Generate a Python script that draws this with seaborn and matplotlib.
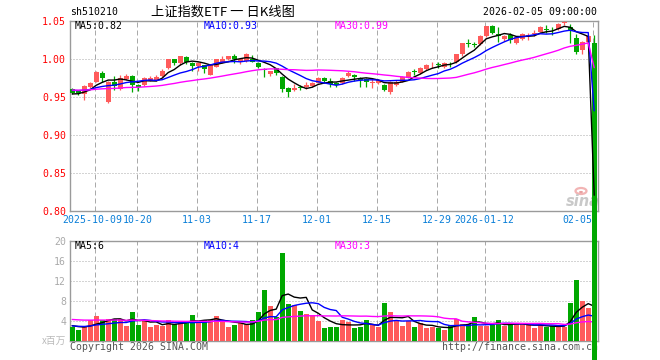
import numpy as np
import pandas as pd
import matplotlib
matplotlib.use('Agg')
import matplotlib.pyplot as plt
import matplotlib.transforms as mtransforms
import seaborn as sns
from matplotlib.patches import Circle

# ---------------- data ----------------
tick_labels = ['2025-10-09', '10-20', '11-03', '11-17', '12-01', '12-15',
               '12-29', '2026-01-12', '02-05']
tick_index = [4, 11, 21, 31, 41, 51, 61, 69, 87]

opens = [0.9605, 0.9590, 0.9550, 0.9630, 0.9706, 0.9816, 0.9440, 0.9706, 0.9605, 0.9737,
         0.9780, 0.9660, 0.9660, 0.9720, 0.9730, 0.9780, 0.9880, 1.0000, 0.9956, 1.0026,
         0.9956, 0.9910, 0.9925, 0.9790, 0.9900, 0.9956, 1.0000, 1.0040, 0.9980, 0.9980,
         1.0010, 0.9956, 0.9870, 0.9807, 0.9880, 0.9770, 0.9620, 0.9595, 0.9640, 0.9630,
         0.9650, 0.9693, 0.9760, 0.9720, 0.9690, 0.9684, 0.9780, 0.9794, 0.9750, 0.9737,
         0.9690, 0.9684, 0.9660, 0.9565, 0.9660, 0.9706, 0.9759, 0.9847, 0.9816, 0.9870,
         0.9920, 0.9935, 0.9900, 0.9940, 0.9960, 1.0066, 1.0215, 1.0200, 1.0198, 1.0300,
         1.0435, 1.0330, 1.0268, 1.0320, 1.0210, 1.0268, 1.0300, 1.0330, 1.0364, 1.0400,
         1.0390, 1.0400, 1.0474, 1.0430, 1.0277, 1.0120, 1.0224, 1.0218]
highs = [0.9620, 0.9600, 0.9660, 0.9700, 0.9850, 0.9840, 0.9710, 0.9780, 0.9790, 0.9810,
         0.9790, 0.9680, 0.9770, 0.9780, 0.9790, 0.9870, 1.0010, 1.0010, 1.0050, 1.0040,
         0.9970, 0.9970, 0.9930, 0.9930, 1.0010, 1.0040, 1.0050, 1.0070, 1.0010, 1.0080,
         1.0060, 0.9960, 0.9880, 0.9850, 0.9890, 0.9780, 0.9640, 0.9675, 0.9660, 0.9706,
         0.9700, 0.9770, 0.9770, 0.9750, 0.9700, 0.9770, 0.9840, 0.9810, 0.9770, 0.9750,
         0.9750, 0.9740, 0.9670, 0.9710, 0.9730, 0.9780, 0.9840, 0.9870, 0.9900, 0.9940,
         0.9965, 0.9970, 0.9960, 0.9965, 1.0070, 1.0220, 1.0270, 1.0230, 1.0320, 1.0440,
         1.0445, 1.0430, 1.0320, 1.0340, 1.0310, 1.0340, 1.0340, 1.0385, 1.0440, 1.0450,
         1.0430, 1.0480, 1.0500, 1.0460, 1.0330, 1.0235, 1.0320, 1.0320]
lows = [0.9540, 0.9530, 0.9470, 0.9620, 0.9700, 0.9706, 0.9430, 0.9600, 0.9600, 0.9730,
        0.9570, 0.9580, 0.9650, 0.9710, 0.9720, 0.9770, 0.9870, 0.9930, 0.9930, 0.9940,
        0.9850, 0.9840, 0.9816, 0.9790, 0.9900, 0.9950, 0.9990, 0.9950, 0.9940, 0.9970,
        0.9960, 0.9890, 0.9770, 0.9780, 0.9790, 0.9570, 0.9510, 0.9580, 0.9600, 0.9605,
        0.9640, 0.9690, 0.9690, 0.9640, 0.9640, 0.9680, 0.9770, 0.9720, 0.9640, 0.9640,
        0.9618, 0.9670, 0.9580, 0.9550, 0.9650, 0.9700, 0.9750, 0.9790, 0.9810, 0.9860,
        0.9880, 0.9880, 0.9890, 0.9900, 0.9950, 1.0050, 1.0165, 1.0165, 1.0190, 1.0290,
        1.0330, 1.0230, 1.0235, 1.0220, 1.0200, 1.0260, 1.0260, 1.0310, 1.0360, 1.0340,
        1.0320, 1.0390, 1.0455, 1.0220, 1.0066, 1.0066, 1.0210, 0.0050]
closes = [0.9560, 0.9555, 0.9650, 0.9690, 0.9837, 0.9750, 0.9706, 0.9650, 0.9760, 0.9780,
          0.9660, 0.9630, 0.9760, 0.9750, 0.9770, 0.9850, 1.0000, 0.9956, 1.0044, 0.9970,
          0.9910, 0.9956, 0.9870, 0.9925, 1.0000, 1.0000, 1.0040, 1.0000, 1.0000, 1.0070,
          0.9970, 0.9900, 0.9860, 0.9840, 0.9816, 0.9605, 0.9575, 0.9618, 0.9620, 0.9660,
          0.9690, 0.9759, 0.9710, 0.9680, 0.9666, 0.9759, 0.9816, 0.9770, 0.9730, 0.9706,
          0.9706, 0.9728, 0.9596, 0.9706, 0.9706, 0.9770, 0.9830, 0.9830, 0.9890, 0.9930,
          0.9930, 0.9925, 0.9947, 0.9932, 1.0066, 1.0210, 1.0200, 1.0190, 1.0310, 1.0435,
          1.0340, 1.0300, 1.0310, 1.0255, 1.0300, 1.0330, 1.0320, 1.0340, 1.0430, 1.0390,
          1.0380, 1.0470, 1.0496, 1.0370, 1.0100, 1.0230, 1.0310, 0.0050]
volumes = [2.67, 2.13, 2.67, 4.13, 4.93, 4.13, 4.27, 4.27, 4.27, 2.93,
           5.73, 3.07, 4.13, 2.80, 3.07, 2.93, 4.13, 3.33, 3.73, 3.73,
           5.13, 3.73, 4.13, 4.13, 4.93, 3.73, 2.67, 3.07, 3.47, 3.33,
           4.13, 5.73, 10.13, 6.93, 4.67, 17.60, 7.33, 7.07, 6.00, 5.33,
           5.07, 4.00, 2.60, 2.67, 2.67, 4.13, 3.73, 2.53, 2.80, 4.13,
           3.20, 2.67, 7.60, 5.73, 4.00, 2.93, 4.00, 2.67, 3.47, 2.53,
           2.67, 2.53, 2.13, 3.20, 4.27, 3.33, 3.33, 4.67, 2.93, 2.93,
           3.13, 4.13, 2.93, 3.13, 3.33, 3.33, 3.20, 2.53, 3.20, 2.67,
           2.93, 2.93, 2.80, 7.60, 12.13, 8.00, 6.53, 0.20]

# level of each moving average at the left edge (history before the window)
ma_seed_price = {5: 0.954, 10: 0.9596, 30: 0.9596}
ma_seed_vol = {5: 3.1, 10: 3.0, 30: 4.3}
price_ma_labels = ['MA5:0.82', 'MA10:0.93', 'MA30:0.99']
vol_ma_labels = ['MA5:6', 'MA10:4', 'MA30:3']

# ---------------- style ----------------
W, H = 660, 360
sns.set_theme(style='white')
plt.rcParams['font.family'] = ['DejaVu Sans Mono', 'Noto Sans CJK SC']
plt.rcParams['lines.scale_dashes'] = True

RED = '#ff5b5b'
GREEN = '#00a800'
GRID = '#aaaaaa'
SPINE = '#9a9a9a'
MA_COLORS = {5: '#000000', 10: '#0000ff', 30: '#ff00ff'}
FS = 7.1


def fx(x):
    return x / W


def fy(y):
    return 1 - y / H


def moving_avg(values, n, seed):
    padded = [seed] * (n - 1) + list(values)
    return pd.Series(padded).rolling(n).mean().iloc[n - 1:].to_numpy()


n = len(closes)
idx = np.arange(n)
xc = idx + 0.25
o = np.array(opens); c = np.array(closes)
hi = np.array(highs); lo = np.array(lows)
vol = np.array(volumes)
up = c >= o
colors = np.where(up, RED, GREEN)

fig = plt.figure(figsize=(W / 100, H / 100), dpi=100)
fig.patch.set_facecolor('white')

x0, x1 = 70.3, 598.0
ax = fig.add_axes([fx(x0), fy(211.3), (x1 - x0) / W, (211.3 - 21.3) / H])
axv = fig.add_axes([fx(x0), fy(340.7), (x1 - x0) / W, (340.7 - 240.7) / H])
ax.set_zorder(3)
axv.set_zorder(1)
ax.patch.set_alpha(0.0)
for a in (ax, axv):
    for s in a.spines.values():
        s.set_color(SPINE)
        s.set_linewidth(1.0)
    a.set_xlim(-0.07, 87.88)
    a.set_xticks(tick_index)
    a.xaxis.grid(True, color=GRID, lw=0.72, ls=(0, (5, 3)))
    a.yaxis.grid(True, color=GRID, lw=0.72, ls=(0, (1, 2)))
    a.set_axisbelow(True)
    a.tick_params(length=0)

# ---- price panel ----
ax.set_ylim(0.80, 1.05)
yt = [0.80, 0.85, 0.90, 0.95, 1.00, 1.05]
ax.set_yticks(yt)
ax.set_yticklabels([f'{v:.2f}' for v in yt], color='#ff0000', fontsize=FS)
ax.tick_params(axis='y', pad=3)
ax.set_xticklabels(tick_labels, color='#0a7fd8', fontsize=FS)
ax.tick_params(axis='x', pad=3)
tl = ax.get_xticklabels()
tl[-1].set_ha('right')
tl[0].set_transform(tl[0].get_transform() +
                    mtransforms.ScaledTranslation(-2.5 / 100, 0, fig.dpi_scale_trans))
tl[1].set_transform(tl[1].get_transform() +
                    mtransforms.ScaledTranslation(1.0 / 100, 0, fig.dpi_scale_trans))

minh = 0.0009
for i in range(n):
    last = i == n - 1
    body_lo = min(o[i], c[i])
    body_h = max(abs(c[i] - o[i]), minh)
    ax.vlines(xc[i], lo[i], hi[i], color=colors[i], lw=0.9, zorder=4,
              clip_on=not last)
    ax.bar(xc[i], body_h, bottom=body_lo, width=0.8, color=colors[i],
           linewidth=0, zorder=5, clip_on=not last)

for k in (5, 10, 30):
    ma = moving_avg(c, k, ma_seed_price[k])
    sns.lineplot(x=xc, y=ma, ax=ax, color=MA_COLORS[k], lw=1.0, zorder=6,
                 legend=False)

for label, xpos, k in zip(price_ma_labels, (75, 204, 335), (5, 10, 30)):
    ax.text(fx(xpos), fy(26), label, transform=fig.transFigure,
            color=MA_COLORS[k], fontsize=FS, va='center', ha='left')

# ---- volume panel ----
axv.set_ylim(0, 20)
vt = [0, 4, 8, 12, 16, 20]
axv.set_yticks(vt)
axv.set_yticklabels(['' if v == 0 else str(v) for v in vt], color='#aaaaaa',
                    fontsize=FS)
axv.tick_params(axis='y', pad=3)
axv.set_xticklabels([])
for i in range(n):
    axv.bar(xc[i], vol[i], width=0.8, color=colors[i], linewidth=0, zorder=3)
for k in (5, 10, 30):
    ma = moving_avg(vol, k, ma_seed_vol[k])
    sns.lineplot(x=xc, y=ma, ax=axv, color=MA_COLORS[k], lw=1.0, zorder=4,
                 legend=False)

for label, xpos, k in zip(vol_ma_labels, (75, 204, 335), (5, 10, 30)):
    fig.text(fx(xpos), fy(246), label, color=MA_COLORS[k], fontsize=FS,
             va='center', ha='left', zorder=5)
fig.text(fx(66), fy(341), 'x百万', color='#bbbbbb', fontsize=7,
         family=['Noto Sans CJK SC', 'DejaVu Sans'], va='center', ha='right',
         zorder=2)

# ---- header / footer texts ----
fig.text(fx(70), fy(12), 'sh510210', color='#000000', fontsize=FS,
         va='center', ha='left')
fig.text(fx(223), fy(12), '上证指数ETF 一 日K线图', color='#000000',
         fontsize=9.5, family=['Noto Sans CJK SC', 'DejaVu Sans'],
         va='center', ha='center')
fig.text(fx(597), fy(12), '2026-02-05 09:00:00', color='#000000',
         fontsize=FS, va='center', ha='right')
fig.text(fx(70), fy(347), 'Copyright 2026 SINA.COM', color='#555555',
         fontsize=FS, va='center', ha='left', zorder=2)
fig.text(fx(442), fy(347), 'http://finance.sina.com.cn', color='#555555',
         fontsize=FS, va='center', ha='left', zorder=2)

# ---- sina watermark ----
fig.patches.append(Circle((fx(581), fy(191)), 5.5 / W, transform=fig.transFigure,
                          fill=False, ec='#f2b4b4', lw=1.6, zorder=2))
fig.patches.append(Circle((fx(581), fy(192)), 2.0 / W, transform=fig.transFigure,
                          fc='#e9a0a0', ec='none', zorder=2))
fig.text(fx(566), fy(201), 'sina', color='#c9c9c9', fontsize=10.5,
         family='DejaVu Sans', style='italic', weight='bold', va='center',
         ha='left', zorder=2)

fig.savefig('out.png', dpi=100, facecolor='white')
